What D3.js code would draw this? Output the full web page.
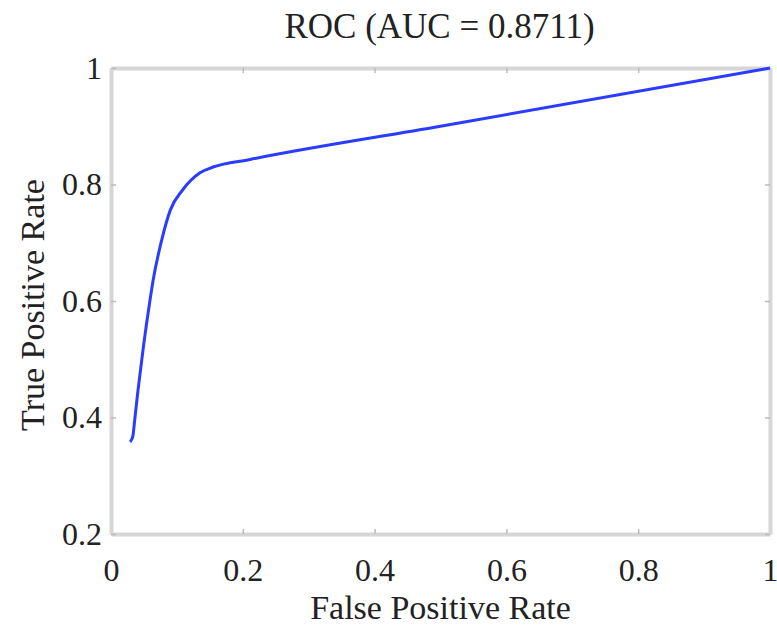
<!DOCTYPE html>
<html>
	<head>
		<title>ROC</title>
		<style>
			body, html { margin: 0; padding: 0; background: #fff; }
			svg { display: block; }
			text { font-family: "Liberation Serif", "DejaVu Serif", Times, serif; fill: #222; }
		</style>
	</head>
	<body>
		<svg id="svg" width="777" height="628"></svg>
		<script src="https://d3js.org/d3.v7.min.js"></script>
		<script>
			// Values
			const fpr = [0.029, 0.033, 0.036, 0.041, 0.049, 0.059, 0.064, 0.077, 0.090, 0.109, 0.135, 0.155, 0.211, 0.5, 1]
			const tpr = [0.358, 0.367, 0.396, 0.447, 0.520, 0.600, 0.636, 0.705, 0.756, 0.791, 0.820, 0.830, 0.843, 0.9, 1]
			const xTicks = [0, 0.2, 0.4, 0.6, 0.8, 1]
			const yTicks = [0.2, 0.4, 0.6, 0.8, 1]
			const title = 'ROC (AUC = 0.8711)'

			const margin = { top: 68, right: 7, bottom: 94, left: 111 }
			const width = 777 - margin.left - margin.right
			const height = 628 - margin.top - margin.bottom

			const svg = d3.select('#svg')
			const g = svg.append('g')
				.attr('transform', `translate(${margin.left}, ${margin.top})`)

			const x = d3.scaleLinear().domain([0, 1]).range([0, width])
			const y = d3.scaleLinear().domain([0.2, 1]).range([height, 0])

			const fmt = d => d === 0 || d === 1 ? String(d) : d3.format('.1f')(d)

			// Box with inward ticks on all sides
			const axisStyle = sel => {
				sel.attr('font-family', null).attr('font-size', null)
				sel.select('.domain').attr('stroke', '#d6d6d6').attr('stroke-width', 4)
				sel.selectAll('.tick line').attr('stroke', '#bbb').attr('stroke-width', 1.5)
				sel.selectAll('text').style('font-size', '32px').attr('fill', '#222')
			}

			g.append('g')
				.attr('transform', `translate(0, ${height})`)
				.call(d3.axisBottom(x).tickValues(xTicks).tickFormat(fmt).tickSizeInner(-5).tickSizeOuter(0).tickPadding(24))
				.call(axisStyle)
			g.append('g')
				.call(d3.axisTop(x).tickValues(xTicks).tickFormat('').tickSizeInner(-5).tickSizeOuter(0))
				.call(axisStyle)
			g.append('g')
				.call(d3.axisLeft(y).tickValues(yTicks).tickFormat(fmt).tickSizeInner(-5).tickSizeOuter(0).tickPadding(9))
				.call(axisStyle)
			g.append('g')
				.attr('transform', `translate(${width}, 0)`)
				.call(d3.axisRight(y).tickValues(yTicks).tickFormat('').tickSizeInner(-5).tickSizeOuter(0))
				.call(axisStyle)

			// ROC curve
			const line = d3.line()
				.x((d, i) => x(fpr[i]))
				.y((d, i) => y(tpr[i]))
				.curve(d3.curveMonotoneX)

			g.append('path')
				.attr('d', line(fpr))
				.attr('fill', 'none')
				.attr('stroke', '#2a3cff')
				.attr('stroke-width', 3)

			// Title and labels
			svg.append('text')
				.attr('x', margin.left + width / 2 - 1)
				.attr('y', 38)
				.attr('text-anchor', 'middle')
				.style('font-size', '35px')
				.text(title)

			svg.append('text')
				.attr('x', margin.left + width / 2)
				.attr('y', 619)
				.attr('text-anchor', 'middle')
				.style('font-size', '34px')
				.text('False Positive Rate')

			svg.append('text')
				.attr('transform', `translate(44, ${margin.top + height / 2 + 4}) rotate(-90)`)
				.attr('text-anchor', 'middle')
				.style('font-size', '34px')
				.text('True Positive Rate')
		</script>
	</body>
</html>
